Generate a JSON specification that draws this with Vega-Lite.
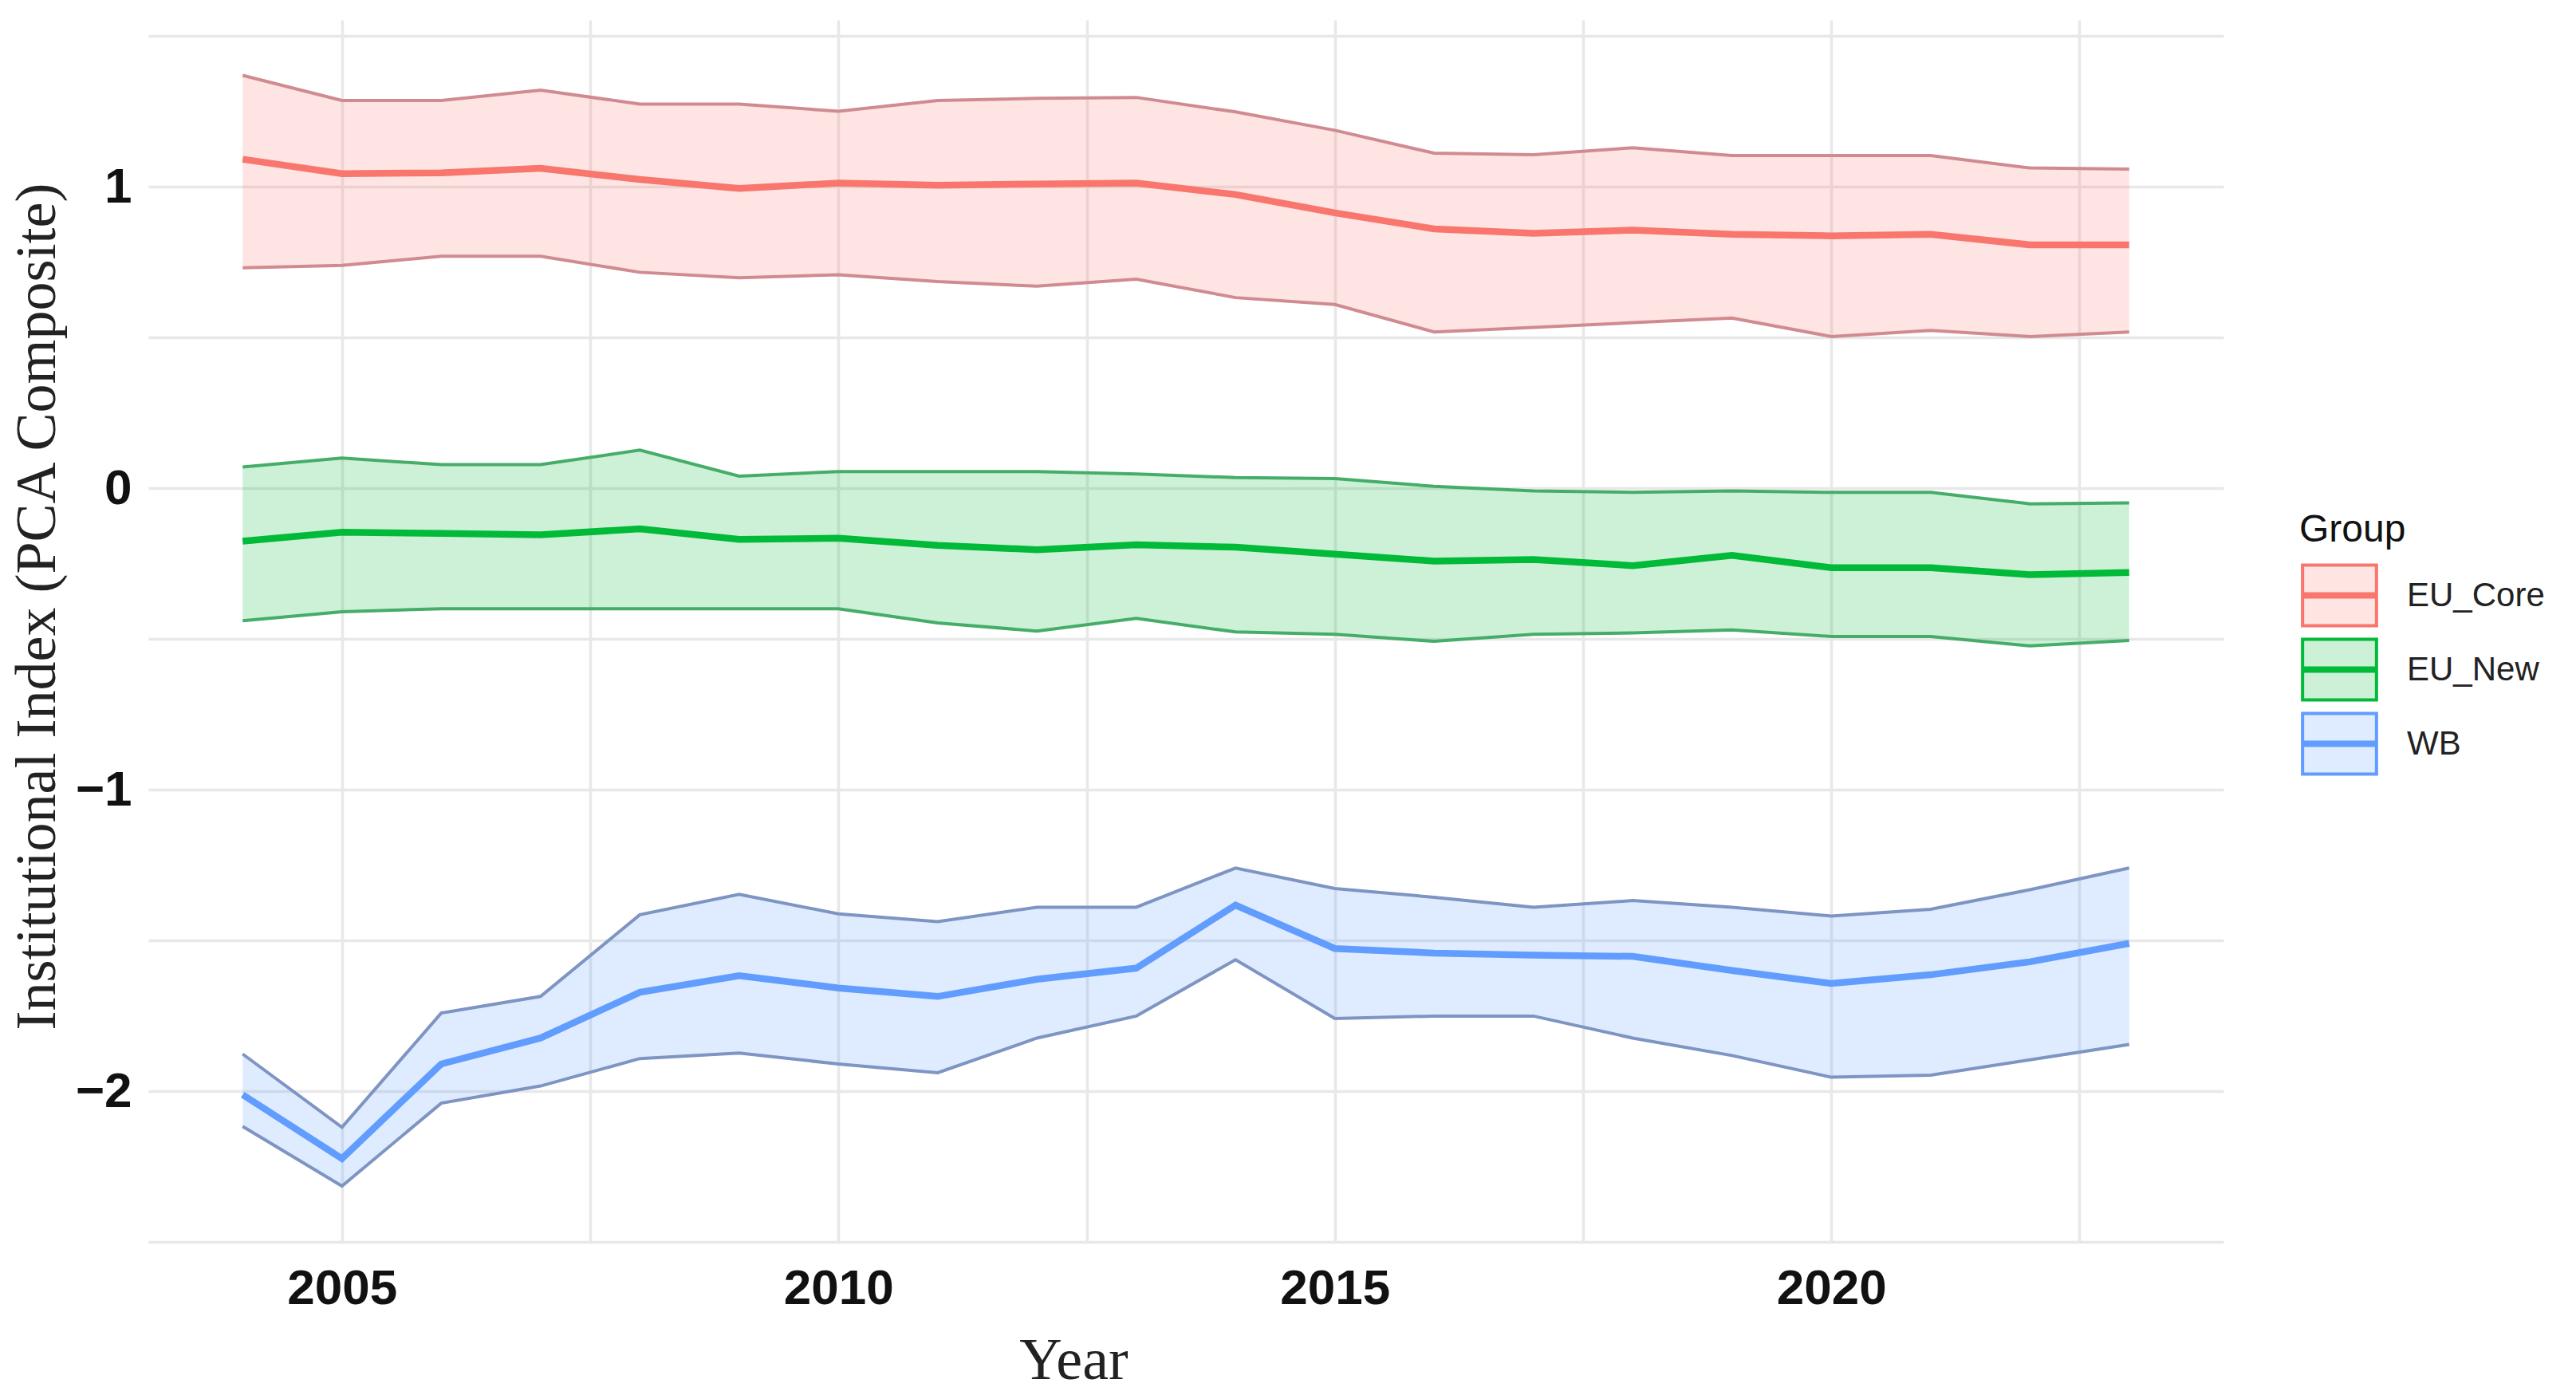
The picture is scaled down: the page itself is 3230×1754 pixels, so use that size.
{
  "$schema": "https://vega.github.io/schema/vega-lite/v6.json",
  "width": 2602,
  "height": 1532,
  "autosize": {"type": "none"},
  "padding": {"left": 186, "top": 25, "right": 442, "bottom": 197},
  "background": "white",
  "config": {
    "view": {"stroke": null},
    "axis": {
      "domain": false,
      "ticks": false,
      "gridColor": "#E8E8E8",
      "gridWidth": 3.5,
      "labelFont": "Liberation Sans",
      "labelFontWeight": "bold",
      "labelFontSize": 62,
      "labelColor": "#111111",
      "labelOverlap": false,
      "titleFont": "Liberation Serif",
      "titleFontWeight": "normal",
      "titleColor": "#222222"
    }
  },
  "data": {
    "values": [
      {"Year": 2004, "Group": "EU_Core", "Lower": 0.731, "Mean": 1.091, "Upper": 1.369},
      {"Year": 2005, "Group": "EU_Core", "Lower": 0.739, "Mean": 1.043, "Upper": 1.286},
      {"Year": 2006, "Group": "EU_Core", "Lower": 0.769, "Mean": 1.046, "Upper": 1.286},
      {"Year": 2007, "Group": "EU_Core", "Lower": 0.769, "Mean": 1.061, "Upper": 1.32},
      {"Year": 2008, "Group": "EU_Core", "Lower": 0.716, "Mean": 1.024, "Upper": 1.274},
      {"Year": 2009, "Group": "EU_Core", "Lower": 0.698, "Mean": 0.994, "Upper": 1.274},
      {"Year": 2010, "Group": "EU_Core", "Lower": 0.708, "Mean": 1.012, "Upper": 1.25},
      {"Year": 2011, "Group": "EU_Core", "Lower": 0.685, "Mean": 1.005, "Upper": 1.286},
      {"Year": 2012, "Group": "EU_Core", "Lower": 0.67, "Mean": 1.009, "Upper": 1.293},
      {"Year": 2013, "Group": "EU_Core", "Lower": 0.693, "Mean": 1.012, "Upper": 1.296},
      {"Year": 2014, "Group": "EU_Core", "Lower": 0.632, "Mean": 0.974, "Upper": 1.248},
      {"Year": 2015, "Group": "EU_Core", "Lower": 0.609, "Mean": 0.913, "Upper": 1.187},
      {"Year": 2016, "Group": "EU_Core", "Lower": 0.518, "Mean": 0.86, "Upper": 1.111},
      {"Year": 2017, "Group": "EU_Core", "Lower": 0.533, "Mean": 0.845, "Upper": 1.106},
      {"Year": 2018, "Group": "EU_Core", "Lower": 0.549, "Mean": 0.856, "Upper": 1.129},
      {"Year": 2019, "Group": "EU_Core", "Lower": 0.564, "Mean": 0.842, "Upper": 1.103},
      {"Year": 2020, "Group": "EU_Core", "Lower": 0.503, "Mean": 0.837, "Upper": 1.103},
      {"Year": 2021, "Group": "EU_Core", "Lower": 0.523, "Mean": 0.842, "Upper": 1.103},
      {"Year": 2022, "Group": "EU_Core", "Lower": 0.503, "Mean": 0.807, "Upper": 1.062},
      {"Year": 2023, "Group": "EU_Core", "Lower": 0.518, "Mean": 0.807, "Upper": 1.058},
      {"Year": 2004, "Group": "EU_New", "Lower": -0.44, "Mean": -0.176, "Upper": 0.07},
      {"Year": 2005, "Group": "EU_New", "Lower": -0.41, "Mean": -0.146, "Upper": 0.1},
      {"Year": 2006, "Group": "EU_New", "Lower": -0.4, "Mean": -0.15, "Upper": 0.078},
      {"Year": 2007, "Group": "EU_New", "Lower": -0.4, "Mean": -0.155, "Upper": 0.078},
      {"Year": 2008, "Group": "EU_New", "Lower": -0.4, "Mean": -0.135, "Upper": 0.126},
      {"Year": 2009, "Group": "EU_New", "Lower": -0.4, "Mean": -0.17, "Upper": 0.04},
      {"Year": 2010, "Group": "EU_New", "Lower": -0.4, "Mean": -0.166, "Upper": 0.055},
      {"Year": 2011, "Group": "EU_New", "Lower": -0.447, "Mean": -0.19, "Upper": 0.055},
      {"Year": 2012, "Group": "EU_New", "Lower": -0.474, "Mean": -0.204, "Upper": 0.055},
      {"Year": 2013, "Group": "EU_New", "Lower": -0.432, "Mean": -0.188, "Upper": 0.047},
      {"Year": 2014, "Group": "EU_New", "Lower": -0.477, "Mean": -0.196, "Upper": 0.035},
      {"Year": 2015, "Group": "EU_New", "Lower": -0.485, "Mean": -0.219, "Upper": 0.032},
      {"Year": 2016, "Group": "EU_New", "Lower": -0.508, "Mean": -0.242, "Upper": 0.006},
      {"Year": 2017, "Group": "EU_New", "Lower": -0.485, "Mean": -0.237, "Upper": -0.009},
      {"Year": 2018, "Group": "EU_New", "Lower": -0.48, "Mean": -0.257, "Upper": -0.014},
      {"Year": 2019, "Group": "EU_New", "Lower": -0.47, "Mean": -0.223, "Upper": -0.009},
      {"Year": 2020, "Group": "EU_New", "Lower": -0.492, "Mean": -0.264, "Upper": -0.014},
      {"Year": 2021, "Group": "EU_New", "Lower": -0.492, "Mean": -0.264, "Upper": -0.014},
      {"Year": 2022, "Group": "EU_New", "Lower": -0.523, "Mean": -0.287, "Upper": -0.052},
      {"Year": 2023, "Group": "EU_New", "Lower": -0.505, "Mean": -0.28, "Upper": -0.049},
      {"Year": 2004, "Group": "WB", "Lower": -2.117, "Mean": -2.012, "Upper": -1.877},
      {"Year": 2005, "Group": "WB", "Lower": -2.315, "Mean": -2.224, "Upper": -2.12},
      {"Year": 2006, "Group": "WB", "Lower": -2.04, "Mean": -1.91, "Upper": -1.741},
      {"Year": 2007, "Group": "WB", "Lower": -1.983, "Mean": -1.824, "Upper": -1.686},
      {"Year": 2008, "Group": "WB", "Lower": -1.892, "Mean": -1.672, "Upper": -1.415},
      {"Year": 2009, "Group": "WB", "Lower": -1.874, "Mean": -1.617, "Upper": -1.347},
      {"Year": 2010, "Group": "WB", "Lower": -1.91, "Mean": -1.658, "Upper": -1.412},
      {"Year": 2011, "Group": "WB", "Lower": -1.939, "Mean": -1.686, "Upper": -1.438},
      {"Year": 2012, "Group": "WB", "Lower": -1.824, "Mean": -1.629, "Upper": -1.39},
      {"Year": 2013, "Group": "WB", "Lower": -1.751, "Mean": -1.592, "Upper": -1.39},
      {"Year": 2014, "Group": "WB", "Lower": -1.564, "Mean": -1.383, "Upper": -1.26},
      {"Year": 2015, "Group": "WB", "Lower": -1.759, "Mean": -1.527, "Upper": -1.328},
      {"Year": 2016, "Group": "WB", "Lower": -1.751, "Mean": -1.542, "Upper": -1.357},
      {"Year": 2017, "Group": "WB", "Lower": -1.751, "Mean": -1.549, "Upper": -1.39},
      {"Year": 2018, "Group": "WB", "Lower": -1.824, "Mean": -1.553, "Upper": -1.368},
      {"Year": 2019, "Group": "WB", "Lower": -1.882, "Mean": -1.6, "Upper": -1.39},
      {"Year": 2020, "Group": "WB", "Lower": -1.954, "Mean": -1.643, "Upper": -1.419},
      {"Year": 2021, "Group": "WB", "Lower": -1.947, "Mean": -1.614, "Upper": -1.397},
      {"Year": 2022, "Group": "WB", "Lower": -1.896, "Mean": -1.571, "Upper": -1.332},
      {"Year": 2023, "Group": "WB", "Lower": -1.845, "Mean": -1.51, "Upper": -1.26}
    ]
  },
  "encoding": {
    "x": {
      "field": "Year",
      "type": "quantitative",
      "scale": {"domain": [2003.05, 2023.95], "nice": false, "zero": false},
      "axis": {
        "title": "Year",
        "values": [2005, 2007.5, 2010, 2012.5, 2015, 2017.5, 2020, 2022.5],
        "format": "d",
        "labelExpr": "datum.value % 5 === 0 ? datum.label : ''",
        "labelPadding": 28,
        "titleFontSize": 74,
        "titleX": 1160,
        "titleY": 171,
        "titleAlign": "center",
        "titleBaseline": "alphabetic"
      }
    },
    "y": {
      "field": "Lower",
      "type": "quantitative",
      "scale": {"domain": [-2.5, 1.553], "nice": false, "zero": false},
      "axis": {
        "title": "Institutional Index (PCA Composite)",
        "values": [-2.5, -2, -1.5, -1, -0.5, 0, 0.5, 1, 1.5],
        "labelExpr": "datum.value === round(datum.value) ? format(datum.value, 'd') : ''",
        "labelPadding": 21,
        "titleFontSize": 72,
        "titleAngle": 270,
        "titleX": -118,
        "titleY": 735,
        "titleAlign": "center",
        "titleBaseline": "alphabetic"
      }
    },
    "color": {
      "field": "Group",
      "type": "nominal",
      "scale": {"domain": ["EU_Core", "EU_New", "WB"], "range": ["#F8766D", "#00BA38", "#619CFF"]},
      "legend": {
        "title": "Group",
        "orient": "none",
        "legendX": 2697,
        "legendY": 616,
        "padding": 0,
        "titleFont": "Liberation Sans",
        "titleFontSize": 48,
        "titleFontWeight": "normal",
        "titleColor": "#111111",
        "titlePadding": 19,
        "labelFont": "Liberation Sans",
        "labelFontSize": 42,
        "labelColor": "#222222",
        "labelLimit": 400,
        "labelOffset": 46,
        "rowPadding": 0,
        "symbolSize": 5329,
        "symbolOffset": 12,
        "encode": {
          "symbols": {
            "update": {
              "shape": {"value": "M-1.27,-1.04H1.27V1.04H-1.27Z M-1.27,-0.055H1.27V0.055H-1.27Z"},
              "fill": {"scale": "color", "field": "value"},
              "fillOpacity": {"value": 0.2},
              "stroke": {"scale": "color", "field": "value"},
              "strokeWidth": {"value": 4},
              "opacity": {"value": 1}
            }
          }
        }
      }
    }
  },
  "layer": [
    {
      "mark": {"type": "area", "opacity": 0.2},
      "encoding": {"y2": {"field": "Upper"}}
    },
    {
      "mark": {"type": "line", "strokeWidth": 4},
      "encoding": {
        "y": {"field": "Upper", "type": "quantitative"},
        "stroke": {
          "field": "Group",
          "type": "nominal",
          "scale": {"domain": ["EU_Core", "EU_New", "WB"], "range": ["#D08B90", "#46AD68", "#7E94C2"]},
          "legend": null
        }
      }
    },
    {
      "mark": {"type": "line", "strokeWidth": 4},
      "encoding": {
        "y": {"field": "Lower", "type": "quantitative"},
        "stroke": {"field": "Group", "type": "nominal", "legend": null}
      }
    },
    {
      "mark": {"type": "line", "strokeWidth": 8.5},
      "encoding": {"y": {"field": "Mean", "type": "quantitative"}}
    }
  ]
}
